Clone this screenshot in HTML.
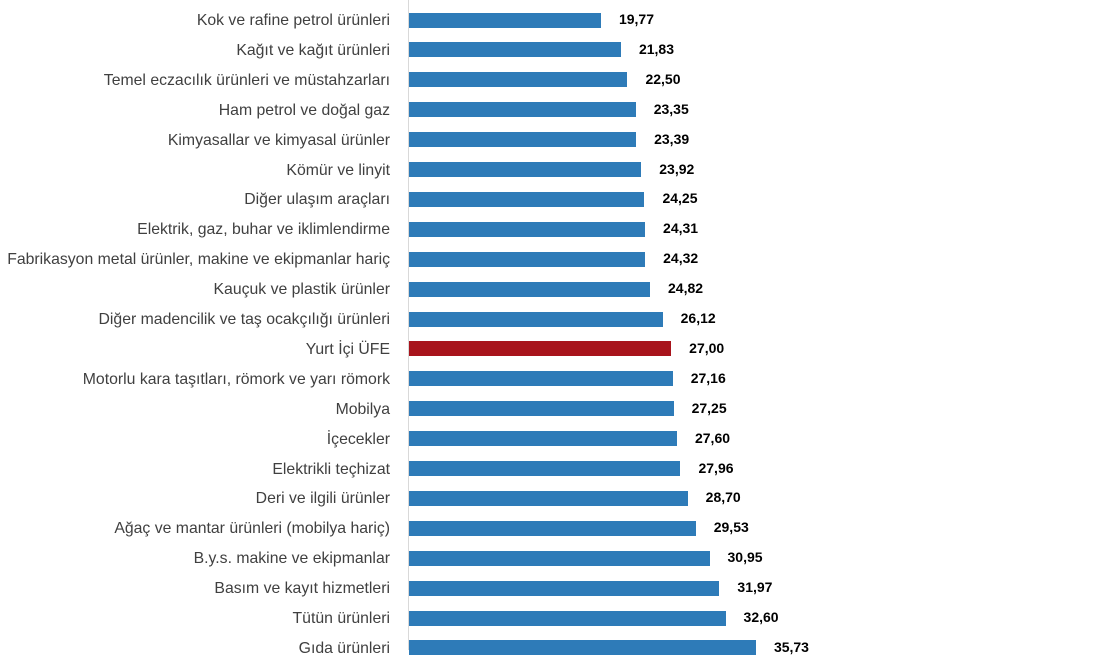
<!DOCTYPE html>
<html><head><meta charset="utf-8"><style>
body{margin:0;width:1100px;height:650px;background:#fff;overflow:hidden;position:relative;font-family:"Liberation Sans",sans-serif}
.l{position:absolute;right:710px;font-size:15.8px;color:#404040;white-space:nowrap;line-height:16px}
.b{position:absolute;left:409px;height:15px;background:#2e7bb8}
.v{position:absolute;font-size:14px;font-weight:bold;color:#000;line-height:16px}
#ax{position:absolute;left:408px;top:0;width:1px;height:650px;background:#d9d9d9}
</style></head><body><div id="ax"></div>
<script>
const d=[["Kok ve rafine petrol ürünleri",19.77],["Kağıt ve kağıt ürünleri",21.83],["Temel eczacılık ürünleri ve müstahzarları",22.50],["Ham petrol ve doğal gaz",23.35],["Kimyasallar ve kimyasal ürünler",23.39],["Kömür ve linyit",23.92],["Diğer ulaşım araçları",24.25],["Elektrik, gaz, buhar ve iklimlendirme",24.31],["Fabrikasyon metal ürünler, makine ve ekipmanlar hariç",24.32],["Kauçuk ve plastik ürünler",24.82],["Diğer madencilik ve taş ocakçılığı ürünleri",26.12],["Yurt İçi ÜFE",27.00],["Motorlu kara taşıtları, römork ve yarı römork",27.16],["Mobilya",27.25],["İçecekler",27.60],["Elektrikli teçhizat",27.96],["Deri ve ilgili ürünler",28.70],["Ağaç ve mantar ürünleri (mobilya hariç)",29.53],["B.y.s. makine ve ekipmanlar",30.95],["Basım ve kayıt hizmetleri",31.97],["Tütün ürünleri",32.60],["Gıda ürünleri",35.73]];
let h="";d.forEach((r,i)=>{const c=20+i*29.9,w=r[1]*9.71;
h+=`<div class="l" style="top:${c-7}px">${r[0]}</div><div class="b" style="top:${c-7.5}px;width:${w}px;${i==11?'background:#a8141c':''}"></div><div class="v" style="top:${c-9}px;left:${409+w+18}px">${r[1].toFixed(2).replace('.',',')}</div>`});
document.body.insertAdjacentHTML('beforeend',h);
</script></body></html>
